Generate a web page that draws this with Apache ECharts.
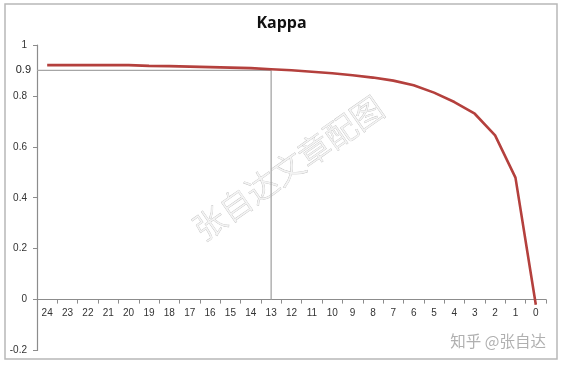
<!DOCTYPE html>
<html>
<head>
<meta charset="utf-8">
<script src="https://cdn.jsdelivr.net/npm/echarts@6/dist/echarts.min.js"></script>
<style>html,body{margin:0;padding:0;background:#fff}#c{width:563px;height:368px}</style>
</head>
<body>
<div id="c"></div>
<script>
var categories = ['24','23','22','21','20','19','18','17','16','15','14','13','12','11','10','9','8','7','6','5','4','3','2','1','0'];
var kappa = [0.921,0.921,0.921,0.921,0.921,0.918,0.917,0.915,0.913,0.911,0.909,0.905,0.901,0.895,0.889,0.881,0.872,0.860,0.842,0.813,0.776,0.730,0.645,0.479,-0.02];
var guideX = [24.5, 13, 13];
var guideY = [0.9, 0.9, 0];
var guideLabel = '0.9';
var yTicks = {min: -0.2, max: 1, interval: 0.2};

var gridTop = 45, gridBottom = 17.5, H = 368;
var plotH = H - gridTop - gridBottom;
var zeroOffset = -plotH * (0 - yTicks.min) / (yTicks.max - yTicks.min);

var chart = echarts.init(document.getElementById('c'));
var guideData = guideX.map(function (x, i) {
  var d = {value: [x, guideY[i]]};
  if (i === 0) {
    d.symbol = 'circle';
    d.symbolSize = 2;
    d.itemStyle = {color: 'rgba(0,0,0,0)'};
    d.label = {show: true, position: 'left', distance: 5, formatter: guideLabel,
      fontSize: 11, color: '#222', fontFamily: 'Liberation Sans'};
  }
  return d;
});
chart.setOption({
  animation: false,
  backgroundColor: '#fff',
  title: {
    text: 'Kappa', left: 'center', top: 10,
    textStyle: {fontFamily: 'Open Sans', fontWeight: 'bold', fontSize: 16, color: '#111'}
  },
  grid: {left: 37, right: 17, top: gridTop, bottom: gridBottom, containLabel: false},
  xAxis: [{
    type: 'category', data: categories, boundaryGap: true, offset: zeroOffset,
    axisLine: {onZero: false, lineStyle: {color: '#8c8c8c', width: 1.2}},
    axisTick: {show: true, length: 4, lineStyle: {color: '#8c8c8c'}},
    axisLabel: {fontSize: 10, color: '#333', margin: 9, fontFamily: 'Liberation Sans'},
    splitLine: {show: false}
  }, {
    type: 'value', min: -0.5, max: 24.5, inverse: true, show: false,
    splitLine: {show: false}
  }],
  yAxis: {
    type: 'value', min: yTicks.min, max: yTicks.max, interval: yTicks.interval,
    axisLine: {show: true, onZero: false, lineStyle: {color: '#8c8c8c', width: 1.2}},
    axisTick: {show: true, length: 4, lineStyle: {color: '#8c8c8c'}},
    axisLabel: {fontSize: 10, color: '#333', margin: 10, fontFamily: 'Liberation Sans',
      formatter: function (v) { return String(Math.round(v * 10) / 10); }},
    splitLine: {show: false}
  },
  graphic: [
    {type: 'rect', shape: {x: 5, y: 4, width: 552, height: 355},
      style: {fill: 'none', stroke: '#b8b8b8', lineWidth: 1.5}, z: -1},
    {type: 'text', x: 288, y: 168, rotation: 35 * Math.PI / 180,
      style: {text: '张自达文章配图', fontSize: 32, fontFamily: 'Noto Sans CJK SC', fontWeight: 300,
        fill: '#f4f4f4', stroke: '#bdbdbd', lineWidth: 0.7, align: 'center', verticalAlign: 'middle'}, z: 0},
    {type: 'text', right: 17, top: 333,
      style: {text: '知乎 @张自达', fontSize: 15.5, fontFamily: 'Noto Sans CJK SC', fill: '#b0b0b0'}}
  ],
  series: [{
    type: 'line', xAxisIndex: 1, data: guideData, symbol: 'none',
    lineStyle: {color: '#a6a6a6', width: 1.3}, z: 2, silent: true
  }, {
    type: 'line', data: kappa, symbol: 'none',
    lineStyle: {color: '#b4403d', width: 2.6}, z: 3
  }]
});
</script>
</body>
</html>
